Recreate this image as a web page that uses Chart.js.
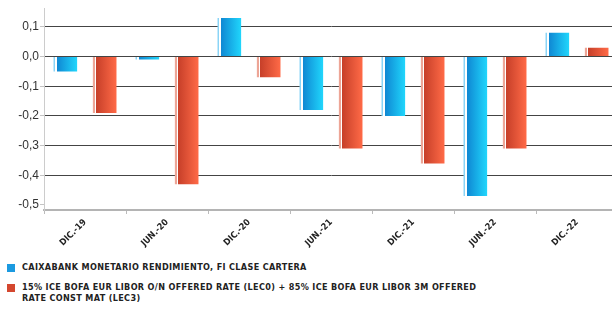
<!DOCTYPE html>
<html lang="es">
<head>
    <meta charset="UTF-8">
    <title>Rentabilidad semestral</title>
    <script src="https://cdn.jsdelivr.net/npm/chart.js@4/dist/chart.umd.min.js"></script>
    <style>
        html, body { margin: 0; padding: 0; background: #fff; overflow: hidden; }
        body { width: 612px; height: 311px; position: relative; }
        .chart-box { position: absolute; left: 0; top: 0; width: 618px; height: 250px; }
        .legend { position: absolute; left: 0; top: 262px; font-family: 'DejaVu Sans Condensed', 'Liberation Sans', sans-serif;
                  font-weight: bold; font-size: 9px; color: #222; letter-spacing: 0.35px; }
        .legend-item { position: relative; padding-left: 22px; width: 460px; line-height: 11px; margin-bottom: 9px; }
        .legend-item .box { position: absolute; left: 7px; top: 2px; width: 8px; height: 8px; }
    </style>
</head>
<body>
    <div class="chart-box">
        <canvas id="returnsChart" width="618" height="250"></canvas>
    </div>
    <div class="legend" id="legend"></div>

    <script>
        // data
        const categories = ['DIC.-19', 'JUN.-20', 'DIC.-20', 'JUN.-21', 'DIC.-21', 'JUN.-22', 'DIC.-22'];
        const fundValues = [-0.05, -0.01, 0.13, -0.18, -0.20, -0.47, 0.08];
        const benchmarkValues = [-0.19, -0.43, -0.07, -0.31, -0.36, -0.31, 0.03];
        const yTicks = [0.1, 0, -0.1, -0.2, -0.3, -0.4, -0.5];
        const seriesNames = [
            'CAIXABANK MONETARIO RENDIMIENTO, FI CLASE CARTERA',
            '15% ICE BOFA EUR LIBOR O/N OFFERED RATE (LEC0) + 85% ICE BOFA EUR LIBOR 3M OFFERED RATE CONST MAT (LEC3)'
        ];
        const legendColors = ['#1b9ae0', '#d4472f'];

        // left strip, white gap, then dark -> light body
        const barShades = [
            { strip: '#8ad4f6', dark: '#0f86d2', light: '#20d6fc' },
            { strip: '#eda596', dark: '#c63f29', light: '#ff6a47' }
        ];

        const cylinderBars = {
            id: 'cylinderBars',
            beforeDatasetsDraw(chart) {
                const c = chart.ctx;
                chart.data.datasets.forEach((ds, i) => {
                    const shade = barShades[i];
                    chart.getDatasetMeta(i).data.forEach(bar => {
                        const left = bar.x - bar.width / 2;
                        const g = c.createLinearGradient(left, 0, left + bar.width, 0);
                        g.addColorStop(0, shade.strip);
                        g.addColorStop(0.07, shade.strip);
                        g.addColorStop(0.07, '#ffffff');
                        g.addColorStop(0.13, '#ffffff');
                        g.addColorStop(0.13, shade.dark);
                        g.addColorStop(1, shade.light);
                        bar.options.backgroundColor = g;
                    });
                });
            }
        };

        const fmt = v => v.toFixed(1).replace('.', ',');

        const ctx = document.getElementById('returnsChart').getContext('2d');
        const returnsChart = new Chart(ctx, {
            type: 'bar',
            data: {
                labels: categories,
                datasets: [
                    { label: seriesNames[0], data: fundValues, backgroundColor: () => legendColors[0] },
                    { label: seriesNames[1], data: benchmarkValues, backgroundColor: () => legendColors[1] }
                ]
            },
            options: {
                responsive: false,
                animation: false,
                layout: { padding: { top: 5, left: 0, right: 0, bottom: 0 } },
                datasets: {
                    bar: { barPercentage: 0.6, categoryPercentage: 0.96, borderWidth: 0 }
                },
                plugins: {
                    legend: { display: false },
                    tooltip: { enabled: false }
                },
                scales: {
                    x: {
                        afterFit: s => { s.height = 40; },
                        grid: { drawOnChartArea: false, tickLength: 4, tickColor: '#bbb' },
                        border: { color: '#b4b4b4', width: 2 },
                        ticks: {
                            minRotation: 45,
                            maxRotation: 45,
                            padding: 3,
                            color: '#222',
                            font: { family: "'DejaVu Sans Condensed', 'Liberation Sans', sans-serif", size: 9, weight: 'bold' }
                        }
                    },
                    y: {
                        min: -0.517,
                        max: 0.163,
                        afterFit: s => { s.width = 44; },
                        afterBuildTicks: s => { s.ticks = yTicks.map(v => ({ value: v })); },
                        grid: {
                            color: c => (c.tick && c.tick.value === -0.5) ? 'rgba(0,0,0,0)' : '#444',
                            lineWidth: 1,
                            tickLength: 4,
                            tickColor: '#c4c4c4'
                        },
                        border: { color: '#cccccc', width: 1 },
                        ticks: {
                            padding: 1,
                            color: '#333',
                            font: { family: "'Liberation Sans', Arial, sans-serif", size: 12 },
                            callback: v => fmt(v)
                        }
                    }
                }
            },
            plugins: [cylinderBars]
        });

        // legend below the chart
        const legendEl = document.getElementById('legend');
        seriesNames.forEach((name, i) => {
            const item = document.createElement('div');
            item.className = 'legend-item';
            item.innerHTML = '<span class="box" style="background:' + legendColors[i] + '"></span>' + name;
            legendEl.appendChild(item);
        });
    </script>
</body>
</html>
